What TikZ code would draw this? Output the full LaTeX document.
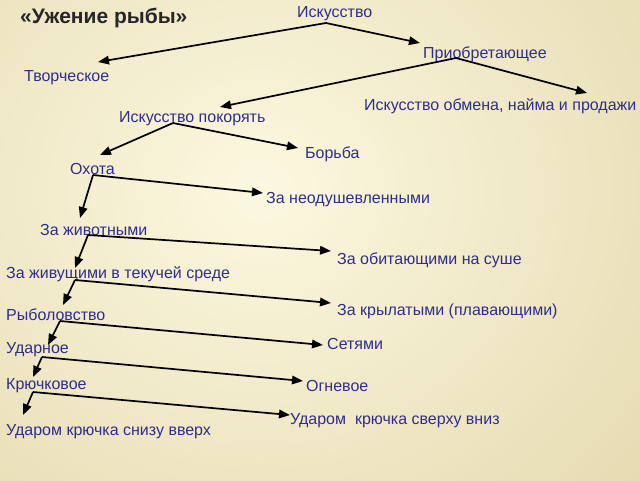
\documentclass[tikz,border=0pt]{standalone}
\usepackage{fontspec}
\setmainfont{Liberation Sans}
\usetikzlibrary{arrows.meta}
\definecolor{txt}{RGB}{46,46,140}
\definecolor{bgin}{RGB}{252,248,224}
\definecolor{bgout}{RGB}{230,219,178}
\tikzset{
  lbl/.style={anchor=west, inner sep=0pt, yshift=-2pt, text=txt, font=\fontsize{16}{18}\selectfont},
  ttl/.style={anchor=west, inner sep=0pt, yshift=-1pt, text=black!85, font=\fontsize{21}{24}\selectfont\bfseries},
  arr/.style={draw=black, line width=1.7pt, -{Triangle[length=11pt,width=8.5pt]}, shorten >=0pt}
}
\begin{document}
\begin{tikzpicture}[x=1pt,y=-1pt]
\useasboundingbox (0,0) rectangle (640,480);
\shade[inner color=bgin, outer color=bgout] (-240,-260) rectangle (760,640);
% labels
\node[ttl] (title) at (20,17) {«Ужение рыбы»};
\node[lbl] (isk) at (297,12) {Искусство};
\node[lbl] (tvor) at (24,76) {Творческое};
\node[lbl] (prio) at (423,52) {Приобретающее};
\node[lbl] (obm) at (364,104) {Искусство обмена, найма и продажи};
\node[lbl] (pok) at (119,117) {Искусство покорять};
\node[lbl] (bor) at (305,152) {Борьба};
\node[lbl] (oh) at (70,167) {Охота};
\node[lbl] (neod) at (266,198) {За неодушевленными};
\node[lbl] (zhiv) at (40,228) {За животными};
\node[lbl] (sush) at (337,258) {За обитающими на суше};
\node[lbl] (tek) at (6,272) {За живущими в текучей среде};
\node[lbl] (kryl) at (337,309) {За крылатыми (плавающими)};
\node[lbl] (ryb) at (6,313) {Рыболовство};
\node[lbl] (set) at (327,342) {Сетями};
\node[lbl] (udar) at (6,348) {Ударное};
\node[lbl] (ogn) at (306,384) {Огневое};
\node[lbl] (kru) at (6,384) {Крючковое};
\node[lbl] (sverh) at (290,419) {Ударом\ \ крючка сверху вниз};
\node[lbl] (sniz) at (6,430) {Ударом крючка снизу вверх};
% apex and tip coordinates
\coordinate (a0) at (326,23);
\coordinate (t0l) at (98,62);
\coordinate (t0r) at (420,43);
\coordinate (a1) at (456,58);
\coordinate (t1l) at (220,107);
\coordinate (t1r) at (587,93);
\coordinate (a2) at (173,123);
\coordinate (t2l) at (100,155);
\coordinate (t2r) at (298,148);
\coordinate (a3) at (93,175);
\coordinate (t3l) at (80,218);
\coordinate (t3r) at (263,193);
\coordinate (a4) at (88,235);
\coordinate (t4l) at (75,268);
\coordinate (t4r) at (331,251);
\coordinate (a5) at (75,280);
\coordinate (t5l) at (63,305);
\coordinate (t5r) at (331,303);
\coordinate (a6) at (60,321);
\coordinate (t6l) at (48,345);
\coordinate (t6r) at (323,345);
\coordinate (a7) at (42,357);
\coordinate (t7l) at (33,377);
\coordinate (t7r) at (303,381);
\coordinate (a8) at (33,392);
\coordinate (t8l) at (23,415);
\coordinate (t8r) at (290,415);
% connectors
\foreach \i in {0,...,8}{
  \draw[arr] (a\i) -- (t\i l);
  \draw[arr] (a\i) -- (t\i r);
}
\end{tikzpicture}
\end{document}
